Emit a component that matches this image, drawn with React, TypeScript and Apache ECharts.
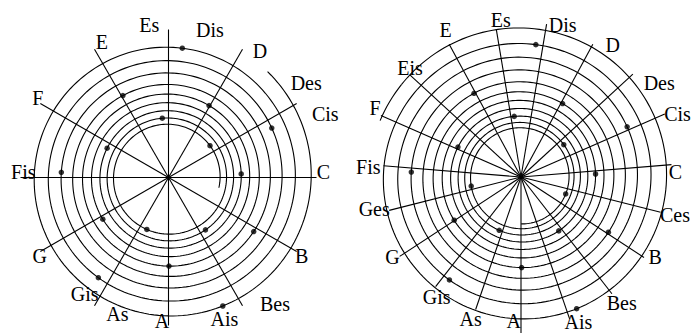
import { useEffect, useRef } from 'react';
import * as echarts from 'echarts';

// ---- Left diagram: 16 tones along the chain of fifths (Des … Ais) ----
const LEFT_NOTES = ['Des', 'As', 'Es', 'Bes', 'F', 'C', 'G', 'D', 'A', 'E', 'B', 'Fis', 'Cis', 'Gis', 'Dis', 'Ais'];
// pitch angle in degrees (counter-clockwise, A pointing down)
const LEFT_ANGLES = [37.5, 247.4, 96.0, 305.2, 154.5, 2.8, 212.4, 60.6, 270.3, 119.1, 327.6, 177.2, 25.6, 235.0, 83.9, 292.9];
// distance from the centre (spiral radius)
const LEFT_RADII = [52.3, 56.3, 59.6, 64.1, 68.0, 72.8, 77.8, 82.6, 88.6, 93.8, 100.9, 107.3, 114.5, 122.3, 130.0, 139.5];
// twelve equal-tempered directions
const LEFT_RAYS = [0, 30, 60, 90, 120, 150, 180, 210, 240, 270, 300, 330];

const LEFT_LABELS = ['C', 'Cis', 'Des', 'D', 'Dis', 'Es', 'E', 'F', 'Fis', 'G', 'Gis', 'As', 'A', 'Ais', 'Bes', 'B'];

// ---- Right diagram: 19 tones along the chain of fifths (Ces … Eis) ----
const RIGHT_NOTES = ['Ces', 'Ges', 'Des', 'As', 'Es', 'Bes', 'F', 'C', 'G', 'D', 'A', 'E', 'B', 'Fis', 'Cis', 'Gis', 'Dis', 'Ais', 'Eis'];
const RIGHT_ANGLES = [339.2, 190.3, 37.1, 247.8, 96.4, 305.0, 154.6, 2.3, 212.9, 60.5, 270.4, 119.3, 327.7, 177.4, 25.3, 235.2, 83.6, 292.9, 142.2];
const RIGHT_RADII = [47.8, 50.6, 53.6, 57.6, 61.0, 65.8, 69.8, 74.6, 79.6, 84.4, 90.6, 96.0, 103.4, 109.8, 117.4, 125.4, 133.2, 143.0, 151.1];
// nineteen equal-tempered directions
const RIGHT_RAY_NAMES = ['C', 'Cis', 'Des', 'D', 'Dis', 'Es', 'E', 'Eis', 'F', 'Fis', 'Ges', 'G', 'Gis', 'As', 'A', 'Ais', 'Bes', 'B', 'Ces'];
const RIGHT_RAYS = [4.7, 23.7, 42.6, 61.6, 80.5, 99.5, 118.4, 137.4, 156.3, 175.3, 194.2, 213.2, 232.1, 251.1, 270.0, 288.9, 307.9, 326.8, 345.8];

// ---- layout (pixels) ----
const LEFT_CENTER = [168.5, 177.5];
const RIGHT_CENTER = [521, 177];
const LEFT_RAY_REACH = 148;
const RIGHT_RAY_REACH = [151, 157, 152, 151, 155, 150, 151, 151, 153, 138, 136, 145, 139, 140, 170, 150, 148, 147, 144];
const LEFT_SPIRAL_LEAD = [49, 114];
const RIGHT_SPIRAL_LEAD = [69, 16];
const LEFT_LABEL_POS: [number, number][] = [
  [154.9, 1.9], [169, 21.9], [166.9, 34.4], [156.5, 54.2], [153, 74.3], [154.2, 97.2], [151.2, 116.1], [153, 148.7],
  [145.3, 177.8], [150.9, 211.4], [143.3, 234.2], [146.1, 249.5], [143.5, 267.4], [152.5, 291.5], [165.6, 310], [154.8, 329.4],
];
const RIGHT_LABEL_POS: [number, number][] = [
  [154.4, 2], [168.7, 21.9], [167.3, 34.3], [160.5, 55.1], [157.6, 74.7], [158.6, 97.3], [165, 117.2], [155.4, 135.6],
  [161.4, 154.8], [153, 176.1], [150.3, 192.4], [151.2, 211.8], [147, 235], [150.8, 250.5], [144, 267.1],
  [156, 291.6], [161.5, 308.6], [155.9, 329.3], [158.6, 346.1],
];

const INK = '#000';
const FONT = '"Liberation Serif", "Times New Roman", serif';

const mod360 = (a: number) => ((a % 360) + 360) % 360;

function spiralSeries(polarIndex: number, angles: number[], radii: number[], lead: number[]) {
  const n = angles.length;
  const sweep = (i: number) => mod360(angles[i + 1] - angles[i]);
  const growth = (i: number) => Math.log(radii[i + 1] / radii[i]) / sweep(i);
  return {
    type: 'custom',
    coordinateSystem: 'polar',
    polarIndex,
    silent: true,
    clip: false,
    data: angles.map((a, i) => [radii[i], a]),
    renderItem: (params: any, api: any) => {
      const i = params.dataIndex;
      const pts: number[][] = [];
      const push = (a: number, r: number) => pts.push(api.coord([r, mod360(a)]));
      if (i === 0) {
        const g = growth(0);
        for (let d = -lead[0]; d < 0; d += 2) push(angles[0] + d, radii[0] * Math.exp(g * d));
      }
      if (i < n - 1) {
        const s = sweep(i);
        const g = growth(i);
        for (let d = 0; d < s; d += 2) push(angles[i] + d, radii[i] * Math.exp(g * d));
        push(angles[i + 1], radii[i + 1]);
      } else {
        const g = growth(n - 2);
        for (let d = 0; d <= lead[1]; d += 2) push(angles[i] + d, radii[i] * Math.exp(g * d));
      }
      return {
        type: 'polyline',
        shape: { points: pts },
        style: { stroke: INK, lineWidth: 1.1, fill: 'none' },
      };
    },
  };
}

function raySeries(polarIndex: number, rays: number[], reach: (i: number) => number) {
  return {
    type: 'custom',
    coordinateSystem: 'polar',
    polarIndex,
    silent: true,
    clip: false,
    data: rays.map((a, i) => [reach(i), a]),
    renderItem: (params: any, api: any) => {
      const a = api.value(1);
      const p0 = api.coord([0, a]);
      const p1 = api.coord([api.value(0), a]);
      return {
        type: 'line',
        shape: { x1: p0[0], y1: p0[1], x2: p1[0], y2: p1[1] },
        style: { stroke: INK, lineWidth: 1.1 },
      };
    },
  };
}

function labelSeries(polarIndex: number, names: string[], pos: [number, number][]) {
  return {
    type: 'custom',
    coordinateSystem: 'polar',
    polarIndex,
    silent: true,
    clip: false,
    data: pos.map((p) => [p[0], p[1]]),
    renderItem: (params: any, api: any) => {
      const p = api.coord([api.value(0), api.value(1)]);
      return {
        type: 'text',
        x: p[0],
        y: p[1],
        style: {
          text: names[params.dataIndex],
          fill: INK,
          fontSize: 20,
          fontFamily: FONT,
          align: 'center',
          verticalAlign: 'middle',
        },
      };
    },
  };
}

function dotSeries(polarIndex: number, names: string[], angles: number[], radii: number[]) {
  return {
    type: 'scatter',
    coordinateSystem: 'polar',
    polarIndex,
    silent: true,
    symbol: 'circle',
    symbolSize: 5.5,
    itemStyle: { color: INK },
    data: names.map((name, i) => ({ name, value: [radii[i], angles[i]] })),
    z: 5,
  };
}

const hiddenAngle = (polarIndex: number) => ({
  polarIndex,
  type: 'value',
  min: 0,
  max: 360,
  startAngle: 0,
  clockwise: false,
  show: false,
  axisLine: { show: false },
  axisTick: { show: false },
  axisLabel: { show: false },
  splitLine: { show: false },
});
const hiddenRadius = (polarIndex: number) => ({
  polarIndex,
  type: 'value',
  min: 0,
  max: 150,
  show: false,
  axisLine: { show: false },
  axisTick: { show: false },
  axisLabel: { show: false },
  splitLine: { show: false },
});

export default function App() {
  const ref = useRef<HTMLDivElement>(null);

  useEffect(() => {
    if (!ref.current) return;
    const chart = echarts.init(ref.current, undefined, { renderer: 'svg' });
    chart.setOption({
      animation: false,
      backgroundColor: '#fff',
      polar: [
        { center: LEFT_CENTER, radius: 150 },
        { center: RIGHT_CENTER, radius: 150 },
      ],
      angleAxis: [hiddenAngle(0), hiddenAngle(1)],
      radiusAxis: [hiddenRadius(0), hiddenRadius(1)],
      series: [
        raySeries(0, LEFT_RAYS, () => LEFT_RAY_REACH),
        spiralSeries(0, LEFT_ANGLES, LEFT_RADII, LEFT_SPIRAL_LEAD),
        dotSeries(0, LEFT_NOTES, LEFT_ANGLES, LEFT_RADII),
        labelSeries(0, LEFT_LABELS, LEFT_LABEL_POS),
        raySeries(1, RIGHT_RAYS, (i) => RIGHT_RAY_REACH[i]),
        spiralSeries(1, RIGHT_ANGLES, RIGHT_RADII, RIGHT_SPIRAL_LEAD),
        dotSeries(1, RIGHT_NOTES, RIGHT_ANGLES, RIGHT_RADII),
        labelSeries(1, RIGHT_RAY_NAMES, RIGHT_LABEL_POS),
      ],
    });
    return () => chart.dispose();
  }, []);

  return (
    <div
      ref={ref}
      style={{ position: 'fixed', left: 0, top: 0, width: 694, height: 333, background: '#fff' }}
    />
  );
}
